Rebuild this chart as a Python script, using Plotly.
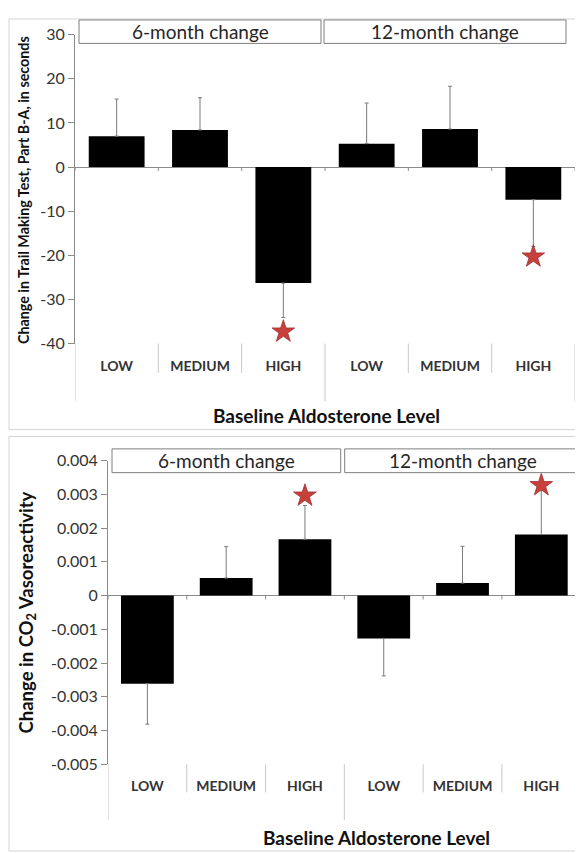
import plotly.graph_objects as go

W, H = 583, 853

# ---------------- data ----------------
levels = ["LOW", "MEDIUM", "HIGH"]
periods = ["6-month change", "12-month change"]

tmt_mean = [7.0, 8.4, -26.3, 5.3, 8.6, -7.4]
tmt_se = [8.4, 7.3, 7.8, 9.2, 9.7, 10.6]
tmt_star = [None, None, -37.3, None, None, -20.3]

co2_mean = [-0.00261, 0.00052, 0.00167, -0.00127, 0.00037, 0.00181]
co2_se = [0.00120, 0.00093, 0.00100, 0.00111, 0.00109, 0.00130]
co2_star = [None, None, 0.00296, None, None, 0.00327]

tmt_ticks = [30, 20, 10, 0, -10, -20, -30, -40]
co2_ticks = [0.004, 0.003, 0.002, 0.001, 0, -0.001, -0.002, -0.003, -0.004, -0.005]

x_pos = list(range(len(levels) * len(periods)))
x_text = levels * len(periods)

# ---------------- helpers ----------------
def px(x):
    return x / W

def py(y):
    return 1 - y / H

FONT = "Lato"
DARK = "#333333"
AXC = "#8a8a8a"

fig = go.Figure()

def add_panel(means, ses, stars, xa, ya):
    up = [s if m >= 0 else 0 for m, s in zip(means, ses)]
    dn = [s if m < 0 else 0 for m, s in zip(means, ses)]
    fig.add_trace(go.Bar(
        x=x_pos, y=means, width=0.67, xaxis=xa, yaxis=ya,
        marker=dict(color="black", line=dict(width=0)),
        error_y=dict(type="data", symmetric=False, array=up, arrayminus=dn,
                     color="#7a7a7a", thickness=1, width=2),
        showlegend=False, hoverinfo="skip"))
    sx = [x for x, s in zip(x_pos, stars) if s is not None]
    sy = [s for s in stars if s is not None]
    fig.add_trace(go.Scatter(
        x=sx, y=sy, mode="markers", xaxis=xa, yaxis=ya,
        marker=dict(symbol="star", size=17, color="#c8403c",
                    line=dict(color="#9e2f2c", width=0.8)),
        showlegend=False, hoverinfo="skip"))

add_panel(tmt_mean, tmt_se, tmt_star, "x", "y")
add_panel(co2_mean, co2_se, co2_star, "x2", "y2")

# panel geometry in pixels
P1 = dict(x0=67, x1=567, ytop=17, ybot=333, short=363, long=392)
P2 = dict(x0=100, x1=572.7, ytop=452.7, ybot=763.3, short=792, long=820)

def xaxis_cfg(P, anchor):
    return dict(domain=[px(P["x0"]), px(P["x1"])], range=[-0.5, 5.5], anchor=anchor,
                tickmode="array", tickvals=x_pos, ticktext=x_text,
                showline=False, showgrid=False, zeroline=False, ticks="",
                ticklabelstandoff=12,
                tickfont=dict(family=FONT, size=14, color=DARK, weight="bold"),
                fixedrange=True)

def yaxis_cfg(P, anchor, rng, ticks):
    return dict(domain=[py(P["ybot"]), py(P["ytop"])], range=rng, anchor=anchor,
                tickmode="array", tickvals=ticks, ticktext=[f"{t:g}" for t in ticks],
                showline=True, linecolor=AXC, linewidth=1,
                ticks="outside", ticklen=6, tickcolor=AXC, tickwidth=1,
                showgrid=False, zeroline=True, zerolinecolor=AXC, zerolinewidth=1,
                tickfont=dict(family=FONT, size=16, color=DARK),
                fixedrange=True)

fig.update_layout(
    width=W, height=H, margin=dict(l=0, r=0, t=0, b=0),
    paper_bgcolor="white", plot_bgcolor="rgba(0,0,0,0)",
    xaxis=xaxis_cfg(P1, "y"),
    yaxis=yaxis_cfg(P1, "x", [-40, 30], tmt_ticks),
    xaxis2=xaxis_cfg(P2, "y2"),
    yaxis2=yaxis_cfg(P2, "x2", [-0.005, 0.004], co2_ticks),
    bargap=0.33,
)

shapes = []
annotations = []

# outer frames
for (x0, y0, x1, y1) in [(1, 1, 577, 421), (1, 428, 581, 852)]:
    shapes.append(dict(type="rect", xref="paper", yref="paper",
                       x0=px(x0), x1=px(x1), y0=py(y1), y1=py(y0),
                       line=dict(color="#d4d4d4", width=1), layer="below"))

# category dividers
for P, xr in [(P1, "x"), (P2, "x2")]:
    for i in range(len(x_pos) + 1):
        b = i - 0.5
        is_group = (i % len(levels) == 0)
        yend = P["long"] if is_group else P["short"]
        shapes.append(dict(type="line", xref=xr, yref="paper",
                           x0=b, x1=b, y0=py(P["ybot"]), y1=py(yend),
                           line=dict(color="#c8c8c8", width=1)))

# small downward ticks at zero line
def zero_py(P, rng):
    lo, hi = rng
    return P["ytop"] + (hi - 0) / (hi - lo) * (P["ybot"] - P["ytop"])

for P, xr, rng in [(P1, "x", (-40, 30)), (P2, "x2", (-0.005, 0.004))]:
    zy = zero_py(P, rng)
    for i in range(len(x_pos) + 1):
        b = i - 0.5
        shapes.append(dict(type="line", xref=xr, yref="paper",
                           x0=b, x1=b, y0=py(zy), y1=py(zy + 4),
                           line=dict(color=AXC, width=1)))

# strip header boxes
strips = [
    (periods[0], 71, 313, 2, 26),
    (periods[1], 316, 558, 2, 26),
    (periods[0], 104, 332.7, 440.7, 465),
    (periods[1], 336.7, 573.3, 440.7, 465),
]
for label, x0, x1, y0, y1 in strips:
    shapes.append(dict(type="rect", xref="paper", yref="paper",
                       x0=px(x0), x1=px(x1), y0=py(y1), y1=py(y0),
                       line=dict(color="#7f7f7f", width=1), fillcolor="white"))
    annotations.append(dict(xref="paper", yref="paper", x=px((x0 + x1) / 2),
                            y=py((y0 + y1) / 2), text=label, showarrow=False,
                            xanchor="center", yanchor="middle",
                            font=dict(family=FONT, size=19, color="#262626")))

# axis titles
annotations += [
    dict(xref="paper", yref="paper", x=px(15), y=py(176), textangle=-90,
         text="Change in Trail Making Test, Part B-A, in seconds", showarrow=False,
         xanchor="center", yanchor="middle",
         font=dict(family=FONT, size=14.3, color="#111111", weight="bold")),
    dict(xref="paper", yref="paper", x=px(19), y=py(608), textangle=-90,
         text="Change in CO<sub>2</sub> Vasoreactivity", showarrow=False,
         xanchor="center", yanchor="middle",
         font=dict(family=FONT, size=18.5, color="#111111", weight="bold")),
    dict(xref="paper", yref="paper", x=px(318), y=py(407),
         text="Baseline Aldosterone Level", showarrow=False,
         xanchor="center", yanchor="middle",
         font=dict(family=FONT, size=19, color="#111111", weight="bold")),
    dict(xref="paper", yref="paper", x=px(368), y=py(838),
         text="Baseline Aldosterone Level", showarrow=False,
         xanchor="center", yanchor="middle",
         font=dict(family=FONT, size=19, color="#111111", weight="bold")),
]

fig.update_layout(shapes=shapes, annotations=annotations)
fig.write_html("out.html")
